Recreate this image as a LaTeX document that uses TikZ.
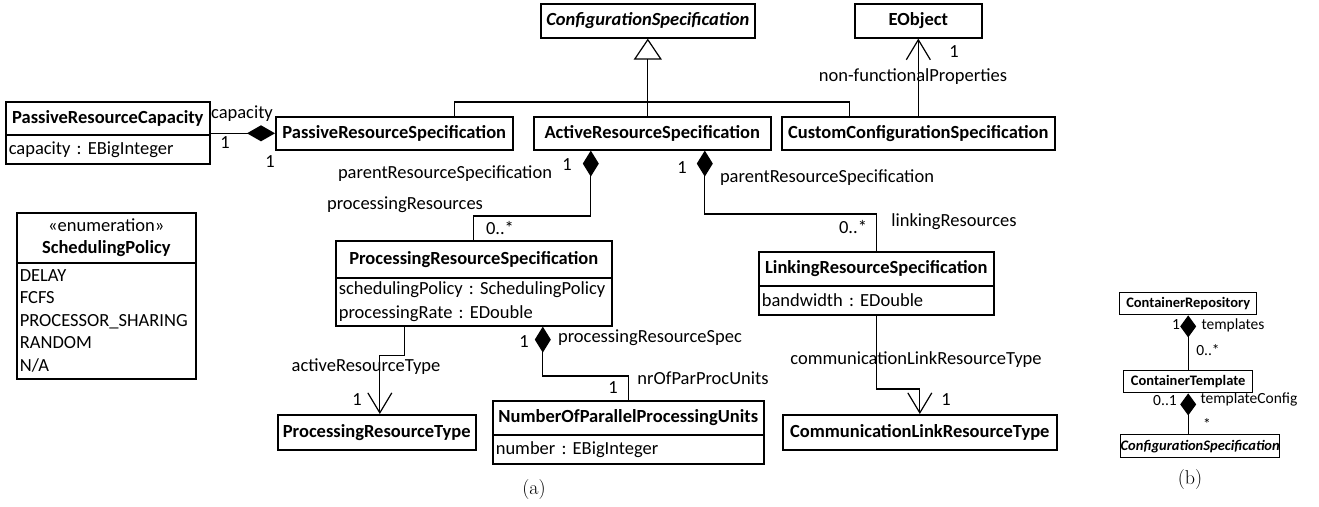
\documentclass[tikz,border=0pt]{standalone}
\usepackage{fontspec}
\newfontfamily\calfont{Carlito}
\usetikzlibrary{arrows.meta}
\tikzset{
  box/.style={draw, line width=1.6pt, inner sep=0pt, anchor=north west, font=\calfont\bfseries\fontsize{18.5}{22}\selectfont},
  attr/.style={draw, line width=1.6pt, inner xsep=3pt, inner ysep=0pt, anchor=north west, align=left, font=\calfont\fontsize{18.5}{24}\selectfont},
  sbox/.style={draw, line width=1.4pt, inner sep=0pt, anchor=north west, font=\calfont\bfseries\fontsize{14.5}{17}\selectfont},
  lbl/.style={inner sep=0pt, font=\calfont\fontsize{18.5}{22}\selectfont},
  slbl/.style={inner sep=0pt, font=\calfont\fontsize{15.5}{18}\selectfont},
  capt/.style={inner sep=0pt, font=\rmfamily\fontsize{20}{24}\selectfont},
  conn/.style={line width=1.2pt},
  gen/.style={conn, -{Triangle[open, length=21pt, width=28pt, line width=1.2pt]}},
  comph/.style={conn, {Diamond[length=28pt, width=16pt]}-},
  compv/.style={conn, {Diamond[length=26pt, width=16pt]}-},
  comps/.style={conn, {Diamond[length=22pt, width=16pt]}-},
  nav/.style={conn, -{Straight Barb[length=20pt, width=24pt, line width=1.2pt]}},
}
\begin{document}
\frenchspacing
\begin{tikzpicture}[x=1pt, y=-1pt]
\useasboundingbox (0,0) rectangle (1319,506);

% ---------- (a) classes ----------
\node[box, minimum width=214pt, minimum height=34pt] (cfg) at (540,3) {\textit{ConfigurationSpecification}};
\node[box, minimum width=127pt, minimum height=34pt] (eobj) at (854,3) {EObject};
\node[box, minimum width=237pt, minimum height=33pt] (passive) at (275,116) {PassiveResourceSpecification};
\node[box, minimum width=237pt, minimum height=33pt] (active) at (533,116) {ActiveResourceSpecification};
\node[box, minimum width=273pt, minimum height=33pt] (custom) at (781,116) {CustomConfigurationSpecification};

\node[box, minimum width=204pt, minimum height=33pt] (cap) at (5,101) {PassiveResourceCapacity};
\node[attr, text width=198pt, minimum height=29pt] (capA) at (5,134) {capacity : EBigInteger};

\node[attr, align=center, text width=173pt, minimum height=50pt, font=\calfont\fontsize{18.5}{22}\selectfont] (sched) at (16,212) {«enumeration»\\\textbf{SchedulingPolicy}};
\node[attr, text width=173pt, minimum height=116pt, font=\calfont\fontsize{18.5}{22.5}\selectfont] (schedA) at (16,262) {DELAY\\FCFS\\PROCESSOR\_SHARING\\RANDOM\\N/A};

\node[box, minimum width=276pt, minimum height=37pt] (proc) at (335,240) {ProcessingResourceSpecification};
\node[attr, text width=270pt, minimum height=48pt] (procA) at (335,277) {schedulingPolicy : SchedulingPolicy\\processingRate : EDouble};

\node[box, minimum width=235pt, minimum height=34pt] (link) at (758,251) {LinkingResourceSpecification};
\node[attr, text width=229pt, minimum height=29pt] (linkA) at (758,285) {bandwidth : EDouble};

\node[box, minimum width=198pt, minimum height=35pt] (prt) at (277,414) {ProcessingResourceType};
\node[box, minimum width=271pt, minimum height=34pt] (nop) at (492,400) {NumberOfParallelProcessingUnits};
\node[attr, text width=265pt, minimum height=29pt] (nopA) at (492,434) {number : EBigInteger};
\node[box, minimum width=274pt, minimum height=35pt] (clrt) at (782,414) {CommunicationLinkResourceType};

% ---------- (a) connectors ----------
\draw[gen] (active.north -| cfg.south) -- (cfg.south);
\draw[conn] ([xshift=60.5pt]passive.north) |- (cfg.south |- 0,102) -| ([xshift=-68.5pt]custom.north);
\draw[nav] (custom.north) -- (custom.north |- eobj.south);
\draw[comph] (passive.west) -- (passive.west -| cap.east);
\draw[compv] ([xshift=-61.5pt]active.south) |- ([yshift=24pt]proc.north) -- (proc.north);
\draw[compv] ([xshift=52.5pt]active.south) |- ([yshift=37pt]link.north) -- (link.north);
\draw[nav] ([xshift=-69pt]procA.south) -- ++(0,29) -| ([xshift=3pt]prt.north);
\draw[compv] ([xshift=69pt]procA.south) |- ([yshift=24pt]nop.north) -- (nop.north);
\draw[nav] (linkA.south) |- ([yshift=25pt]clrt.north) -- (clrt.north);

% ---------- (a) labels ----------
\node[lbl] (l1) at (954,52) {1};
\node[lbl] (l2) at (913,77) {non-functionalProperties};
\node[lbl] (l3) at (242,114) {capacity};
\node[lbl] (l4) at (225,143) {1};
\node[lbl] (l5) at (270,162) {1};
\node[lbl] (l6) at (445,174) {parentResourceSpecification};
\node[lbl] (l7) at (567,165) {1};
\node[lbl] (l8) at (405,205) {processingResources};
\node[lbl] (l9) at (500,228) {0..*};
\node[lbl] (l10) at (682,168) {1};
\node[lbl] (l11) at (827,178) {parentResourceSpecification};
\node[lbl] (l12) at (954,222) {linkingResources};
\node[lbl] (l13) at (853,227) {0..*};
\node[lbl] (l14) at (366,367) {activeResourceType};
\node[lbl] (l15) at (357,400) {1};
\node[lbl] (l16) at (524,342) {1};
\node[lbl] (l17) at (650,338) {processingResourceSpec};
\node[lbl] (l18) at (703,378) {nrOfParProcUnits};
\node[lbl] (l19) at (613,388) {1};
\node[lbl] (l20) at (916,360) {communicationLinkResourceType};
\node[lbl] (l21) at (946,400) {1};
\node[capt] (capa) at (534,490) {(a)};

% ---------- (b) ----------
\node[sbox, minimum width=137pt, minimum height=22pt] (crepo) at (1119,292) {ContainerRepository};
\node[sbox, minimum width=129pt, minimum height=22pt] (ctempl) at (1123,370) {ContainerTemplate};
\node[sbox, minimum width=157pt, minimum height=23pt] (cfgb) at (1120,434) {\textit{ConfigurationSpecification}};
\draw[comps] (crepo.south) -- (ctempl.north);
\draw[comps] (ctempl.south) -- (ctempl.south |- cfgb.north);
\node[slbl] (m1) at (1176,325) {1};
\node[slbl] (m2) at (1233,325) {templates};
\node[slbl] (m3) at (1208,350) {0..*};
\node[slbl] (m4) at (1165,401) {0..1};
\node[slbl] (m5) at (1249,399) {templateConfig};
\node[slbl] (m6) at (1207,424) {*};
\node[capt] (capb) at (1190,480) {(b)};
\end{tikzpicture}
\end{document}
